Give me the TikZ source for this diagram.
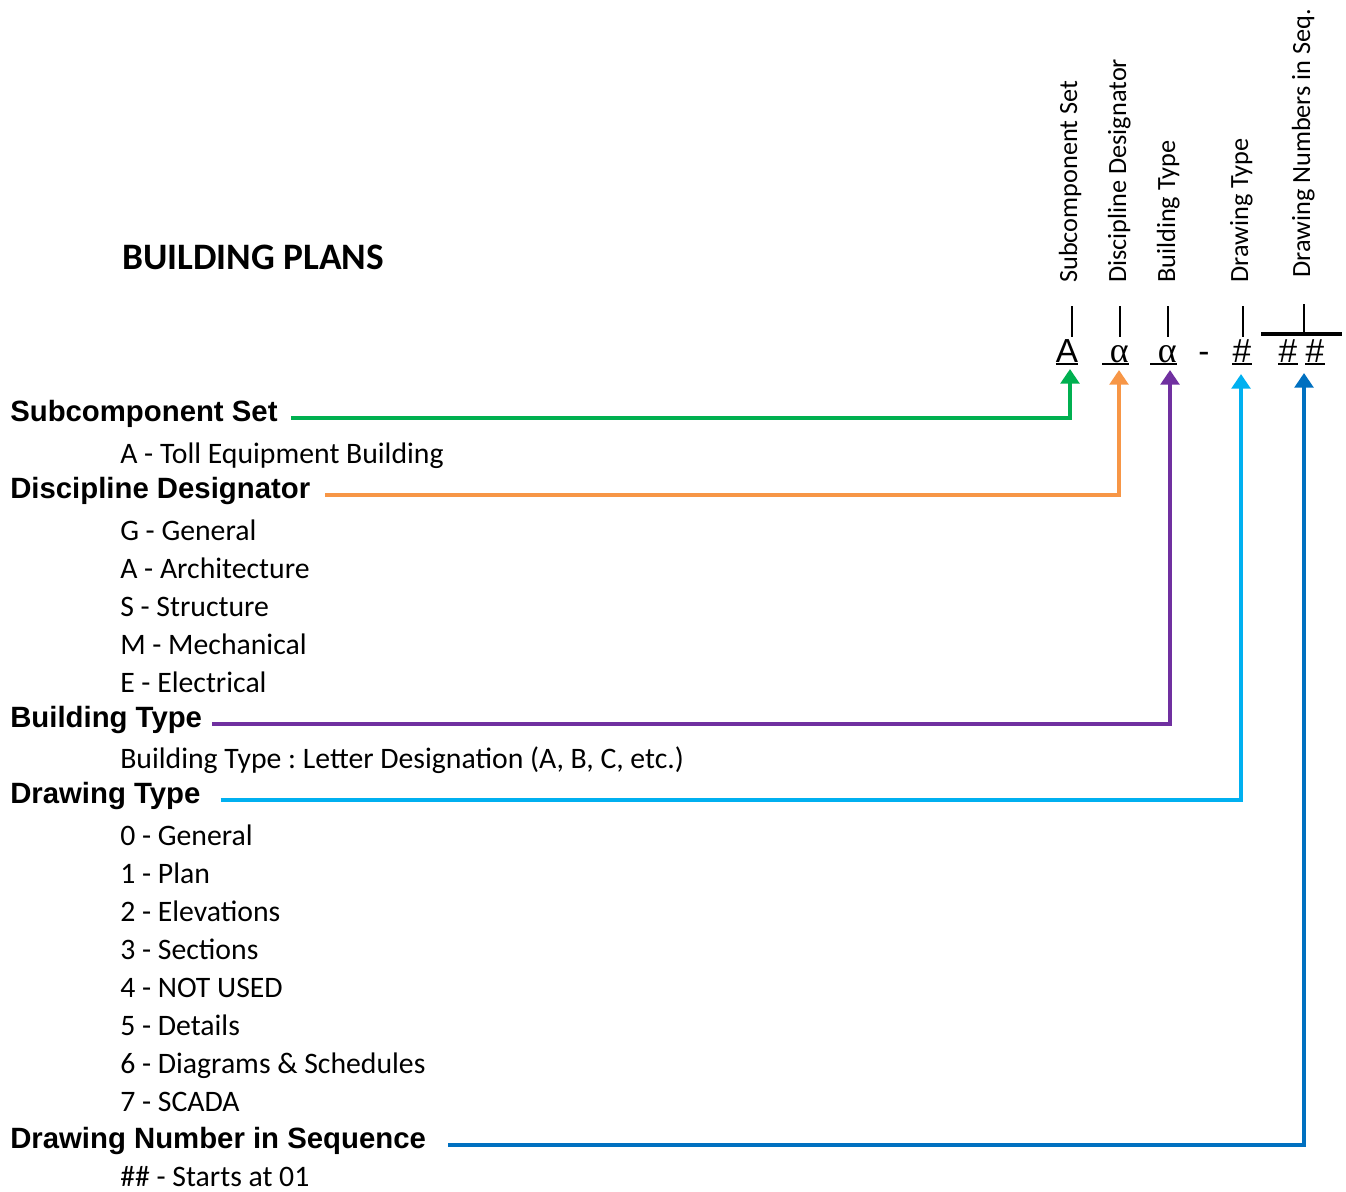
\documentclass[tikz,border=0pt]{standalone}
\usepackage{fontspec}
\setmainfont{Carlito}
\newfontfamily\headfont{Liberation Sans}
\newfontfamily\greekfont{Liberation Serif}
\usetikzlibrary{arrows.meta}
\definecolor{setgreen}{HTML}{00B050}
\definecolor{disorange}{HTML}{F79646}
\definecolor{bldpurple}{HTML}{7030A0}
\definecolor{drwblue}{HTML}{00B0F0}
\definecolor{seqblue}{HTML}{0070C0}
\frenchspacing
\begin{document}
\begin{tikzpicture}[x=0.75pt, y=-0.75pt,
  head/.style={anchor=base west, inner sep=0pt, font=\headfont\bfseries\fontsize{22}{26}\selectfont},
  item/.style={anchor=base west, inner sep=0pt, font=\fontsize{22.3}{26}\selectfont},
  vlabel/.style={rotate=90, anchor=base west, inner sep=0pt, font=\fontsize{19.7}{24}\selectfont},
  sym/.style={anchor=base, inner sep=0pt, font=\headfont\fontsize{25}{30}\selectfont},
  greek/.style={anchor=base east, inner sep=0pt, text width=19.5pt, align=right, font=\greekfont\fontsize{27}{30}\selectfont},
  uline/.style={line width=1.5pt},
  tick/.style={line width=1.5pt},
  conn/.style={line width=3pt, -{Triangle[width=14pt,length=11pt]}}]
\useasboundingbox (0,0) rectangle (1346,1192);

% title
\node[anchor=base west, inner sep=0pt, font=\bfseries\fontsize{28}{32}\selectfont] (title) at (122,269) {BUILDING PLANS};

% code labels
\node[vlabel] (lSub) at (1077,283) {Subcomponent Set};
\node[vlabel] (lDis) at (1126,283) {Discipline Designator};
\node[vlabel] (lBld) at (1175,283) {Building Type};
\node[vlabel] (lDrw) at (1248,283) {Drawing Type};
\node[vlabel] (lSeq) at (1310,278) {Drawing Numbers in Seq.};

\foreach \x in {1072,1120,1168,1243}
  \draw[tick] (\x,306) -- (\x,337);
\draw[tick] (1304,304) -- (1304,332);
\draw[line width=3pt] (1261,334) -- (1342,334);

% code symbols
\node[sym] (symA) at (1067,362) {A};
\node[greek] (symB) at (1129,362) {α};
\node[greek] (symC) at (1177,362) {α};
\node[sym] (dash) at (1204,362) {-};
\node[sym] (symD) at (1242,362) {\#};
\node[sym] (symE) at (1288,362) {\#};
\node[sym] (symF) at (1315,362) {\#};
\foreach \s in {symA,symB,symC,symD,symE,symF}
  \draw[uline] ([yshift=-1.5pt]\s.base west) -- ([yshift=-1.5pt]\s.base east);

% headings
\node[head] (hSub) at (10,421) {Subcomponent Set};
\node[head] (hDis) at (10,498) {Discipline Designator};
\node[head] (hBld) at (10,727) {Building Type};
\node[head] (hDrw) at (10,803) {Drawing Type};
\node[head] (hSeq) at (10,1148) {Drawing Number in Sequence};

% items
\node[item] (tSub) at (120,463) {A - Toll Equipment Building};
\foreach \txt [count=\i from 0] in {G - General, A - Architecture, S - Structure, M - Mechanical, E - Electrical}
  \node[item] (tDis\i) at (120,{540+38*\i}) {\txt};
\node[item] (tBld) at (120,768) {Building Type : Letter Designation (A, B, C, etc.)};
\foreach \txt [count=\i from 0] in {General, Plan, Elevations, Sections, NOT USED, Details, Diagrams \& Schedules, SCADA}
  \node[item] (tDrw\i) at (120,{845+38*\i}) {\i\ - \txt};
\node[item] (tSeq) at (120,1186) {\#\# - Starts at 01};

% connectors
\coordinate (tipA) at (1070,369);
\coordinate (tipB) at (1119,370);
\coordinate (tipC) at (1170,370);
\coordinate (tipD) at (1241,374);
\coordinate (tipE) at (1304,373);
\draw[conn, setgreen] ([shift={(13,-3.5)}]hSub.base east) -| (tipA);
\draw[conn, disorange] ([shift={(15,-3.5)}]hDis.base east) -| (tipB);
\draw[conn, bldpurple] ([shift={(10,-3.5)}]hBld.base east) -| (tipC);
\draw[conn, drwblue] ([shift={(20,-3.5)}]hDrw.base east) -| (tipD);
\draw[conn, seqblue] ([shift={(22,-3.5)}]hSeq.base east) -| (tipE);
\end{tikzpicture}
\end{document}
